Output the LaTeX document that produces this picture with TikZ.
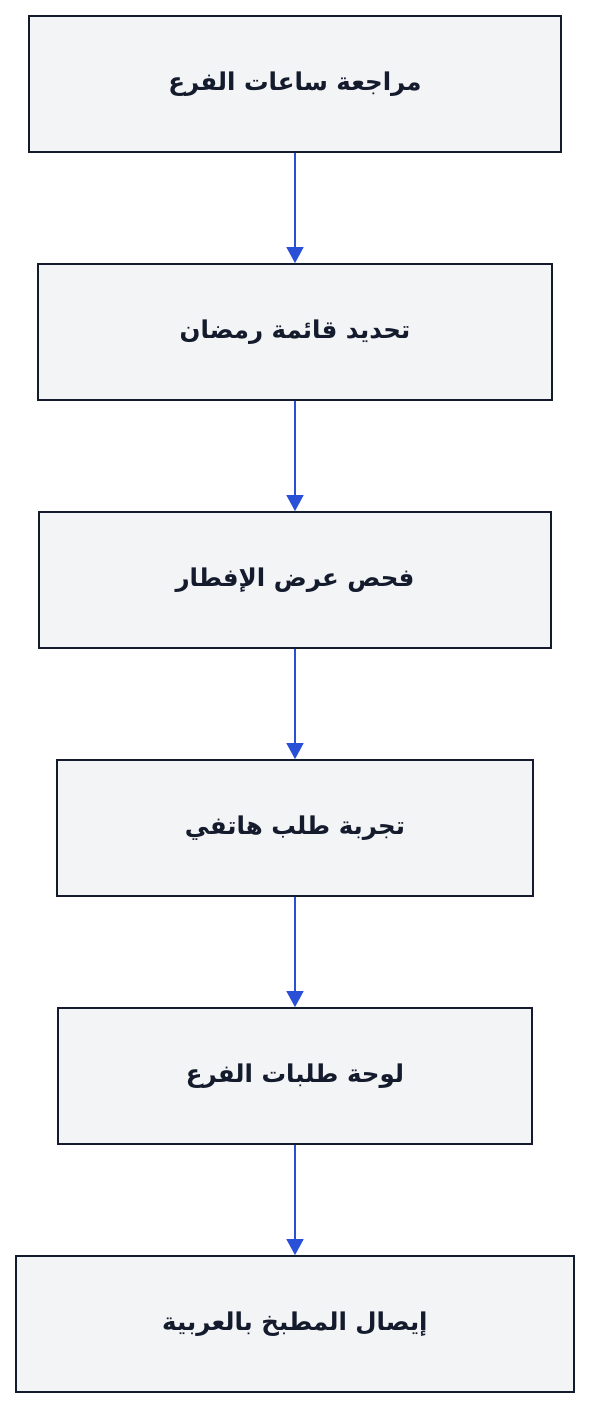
\documentclass[tikz,border=0pt]{standalone}
\usepackage{fontspec}
\newfontfamily\arabicfont[Script=Arabic]{DejaVu Sans}
\TeXXeTstate=1
\usetikzlibrary{arrows.meta}
\definecolor{boxfill}{HTML}{F3F4F6}
\definecolor{boxline}{HTML}{141B2D}
\definecolor{arrowblue}{HTML}{2B50D8}
\begin{document}
\begin{tikzpicture}[x=1pt,y=-1pt,
  stepbox/.style={draw=boxline,fill=boxfill,line width=1.8pt,inner sep=0pt,
    font=\arabicfont\bfseries\fontsize{24.5}{28}\selectfont,text=boxline},
  flow/.style={draw=arrowblue,line width=1.4pt,-{Triangle[width=17pt,length=16pt]}}]
\useasboundingbox (0,0) rectangle (590,1408);
\node[stepbox,minimum width=532pt,minimum height=136pt] (a) at (295,84) {\beginR مراجعة ساعات الفرع\endR};
\node[stepbox,minimum width=514pt,minimum height=136pt] (b) at (295,332) {\beginR تحديد قائمة رمضان\endR};
\node[stepbox,minimum width=512pt,minimum height=136pt] (c) at (295,580) {\beginR فحص عرض الإفطار\endR};
\node[stepbox,minimum width=476pt,minimum height=136pt] (d) at (295,828) {\beginR تجربة طلب هاتفي\endR};
\node[stepbox,minimum width=474pt,minimum height=136pt] (e) at (295,1076) {\beginR لوحة طلبات الفرع\endR};
\node[stepbox,minimum width=558pt,minimum height=136pt] (f) at (295,1324) {\beginR إيصال المطبخ بالعربية\endR};
\draw[flow] (a) -- (b);
\draw[flow] (b) -- (c);
\draw[flow] (c) -- (d);
\draw[flow] (d) -- (e);
\draw[flow] (e) -- (f);
\end{tikzpicture}
\end{document}
